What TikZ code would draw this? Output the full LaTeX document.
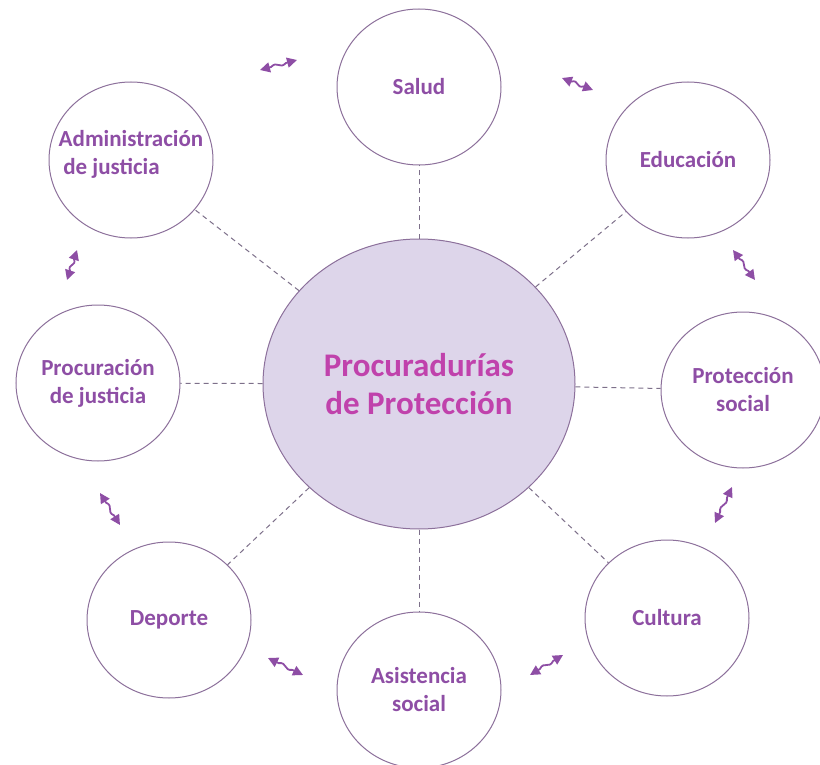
\documentclass[tikz,border=0pt]{standalone}
\usepackage{fontspec}
\setmainfont{Carlito}
\usetikzlibrary{shapes.geometric,arrows.meta,calc}
\definecolor{morado}{RGB}{142,78,165}
\definecolor{rosa}{RGB}{192,66,172}
\definecolor{lila}{RGB}{221,213,234}
\definecolor{borde}{RGB}{140,112,155}
\definecolor{guion}{RGB}{125,112,138}
\begin{document}
\begin{tikzpicture}[x=1pt,y=-1pt,
	tema/.style={ellipse, draw=borde, fill=white, line width=1pt, minimum width=164pt, minimum height=156pt, inner sep=0pt},
	texto/.style={text=morado, font=\fontsize{23}{28}\selectfont\bfseries, align=center},
	enlace/.style={draw=guion, line width=1pt, dash pattern=on 5pt off 4pt},
	flecha/.style={draw=morado, line width=1.8pt, {Triangle[length=10pt,width=10pt]}-{Triangle[length=10pt,width=10pt]}}]
	\useasboundingbox (0,0) rectangle (820,765);
	% centro
	\node[ellipse, draw=borde, fill=lila, line width=1pt, minimum width=312pt, minimum height=290pt, inner sep=0pt,
		text=rosa, font=\fontsize{33}{38}\selectfont\bfseries, align=center] (centro) at (419,384) {Procuradurías\\de Protección};
	% temas
	\node[tema, label={[texto]center:Salud}] (salud) at (419,87) {};
	\node[tema, label={[texto]center:Educación}] (educacion) at (688,160) {};
	\node[tema, label={[texto]center:Protección\\social}] (proteccion) at (743,390) {};
	\node[tema, label={[texto]center:Cultura}] (cultura) at (667,618) {};
	\node[tema, label={[texto]center:Asistencia\\social}] (asistencia) at (419,690) {};
	\node[tema, label={[texto]center:Deporte}] (deporte) at (169,620) {};
	\node[tema, label={[texto]center:Procuración\\de justicia}] (procuracion) at (98,383) {};
	\node[tema, label={[texto,align=left,yshift=6pt]center:Administración\\\hspace{.2em}de justicia}] (administracion) at (131,160) {};
	\foreach \t in {salud,educacion,proteccion,cultura,asistencia,deporte,procuracion,administracion}
		\draw[enlace] (centro) -- (\t);
	% flechas onduladas
	\foreach \n/\ax/\ay/\bx/\by in {1/260/70/297/60, 2/562/78/593/90, 3/733/250/755/280, 4/732/487/715/523,
		5/563/655/530/675, 6/303/675/268/658, 7/120/525/100/493, 8/67/280/77/250}{
		\coordinate (fa\n) at (\ax,\ay);
		\coordinate (fb\n) at (\bx,\by);
		\draw[flecha] (fa\n) -- ($(fa\n)!.3!(fb\n)$)
			.. controls ($(fa\n)!.5!(fb\n)!5pt!90:(fb\n)$) and ($(fa\n)!.5!(fb\n)!5pt!-90:(fb\n)$)
			.. ($(fa\n)!.7!(fb\n)$) -- (fb\n);
	}
\end{tikzpicture}
\end{document}
